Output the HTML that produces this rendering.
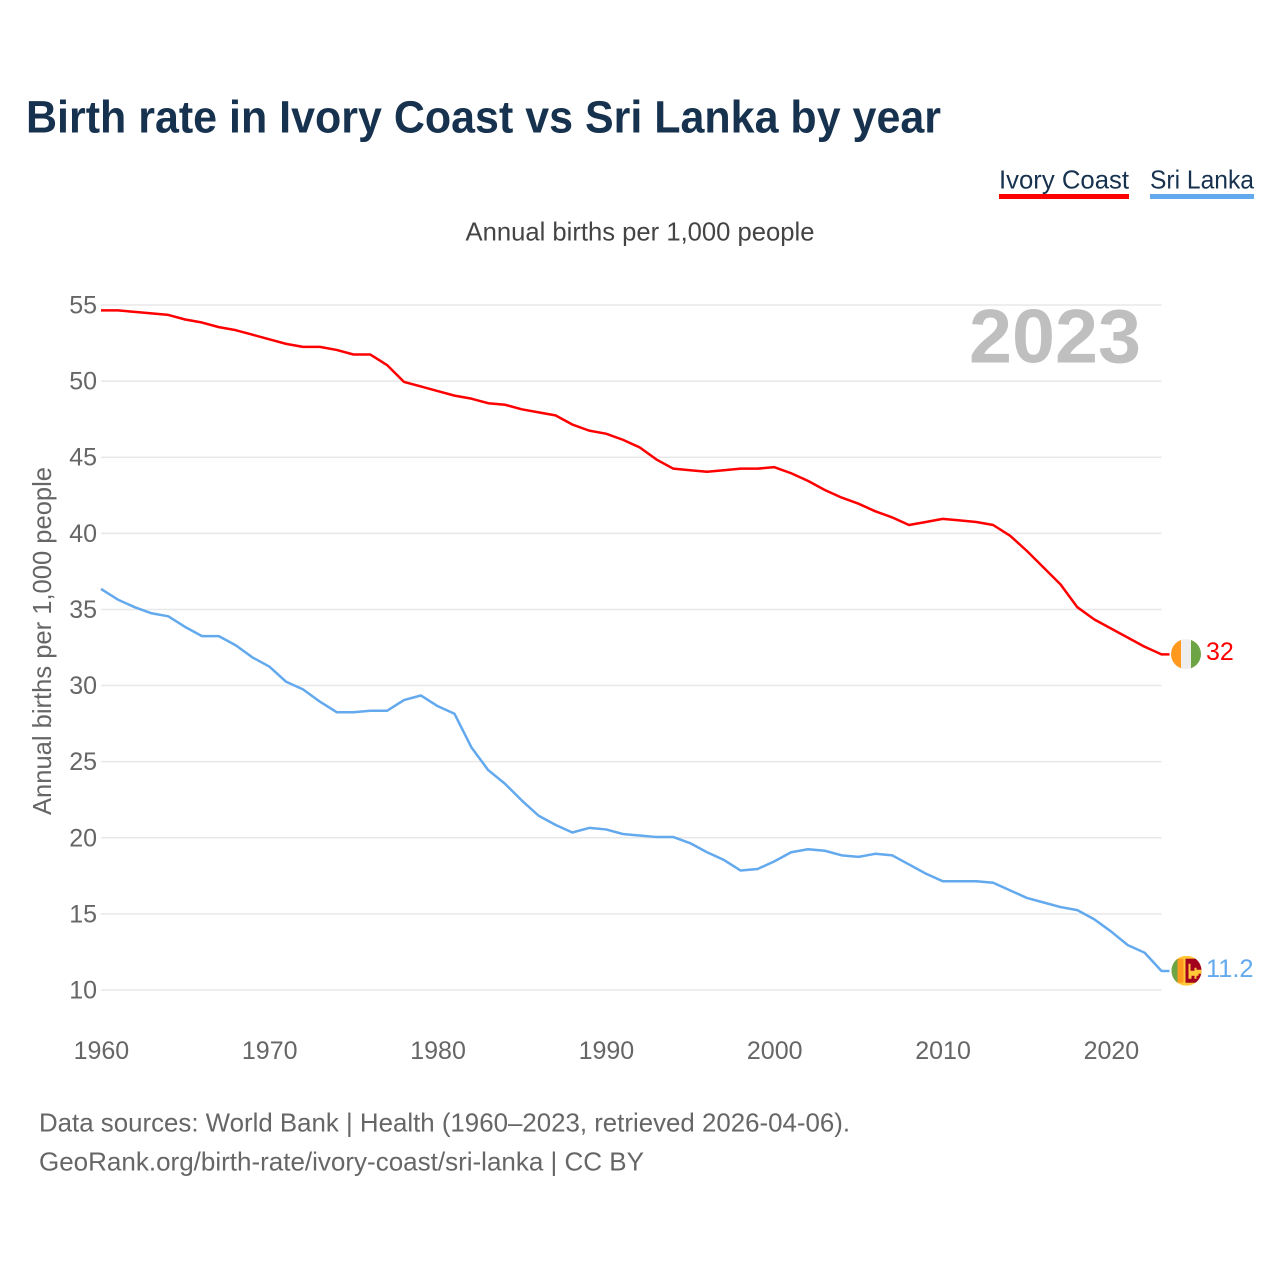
<!DOCTYPE html>
<html lang="en">
<head>
<meta charset="utf-8">
<title>Birth rate in Ivory Coast vs Sri Lanka by year</title>
<style>
html,body{margin:0;padding:0;background:#fff;width:1280px;height:1280px;overflow:hidden}
svg{display:block}
text{font-family:"Liberation Sans",sans-serif}
</style>
</head>
<body>
<svg id="chart" xmlns="http://www.w3.org/2000/svg" width="1280" height="1280" viewBox="0 0 1280 1280">
  <text x="26" y="132.5" font-size="45" font-weight="700" fill="#17324f" textLength="915" lengthAdjust="spacingAndGlyphs">Birth rate in Ivory Coast vs Sri Lanka by year</text>

  <g>
    <text x="999" y="188.5" font-size="26" fill="#17324f" textLength="130" lengthAdjust="spacingAndGlyphs">Ivory Coast</text>
    <rect x="999" y="194" width="130" height="5" fill="#ff0000"/>
  </g>
  <g>
    <text x="1150" y="188.5" font-size="26" fill="#17324f" textLength="104" lengthAdjust="spacingAndGlyphs">Sri Lanka</text>
    <rect x="1150" y="194" width="104" height="5" fill="#63a9ee"/>
  </g>

  <text x="640" y="240.5" font-size="26" fill="#444" text-anchor="middle" textLength="349" lengthAdjust="spacingAndGlyphs">Annual births per 1,000 people</text>

  <text transform="translate(51 641) rotate(-90)" font-size="26" fill="#666" text-anchor="middle" textLength="348" lengthAdjust="spacingAndGlyphs">Annual births per 1,000 people</text>

  <g id="grid"></g>
  <g id="yticks"></g>
  <g id="xticks"></g>

  <text x="969" y="362.5" font-size="76" font-weight="700" fill="#bfbfbf" textLength="172" lengthAdjust="spacingAndGlyphs">2023</text>

  <g id="series"></g>

  <defs>
    <clipPath id="clip-ci"><circle cx="0" cy="0" r="15"/></clipPath>
    <clipPath id="clip-lk"><circle cx="0" cy="0" r="15"/></clipPath>
  </defs>

  <g id="flag-ci">
    <g clip-path="url(#clip-ci)">
      <rect x="-15" y="-15" width="10" height="30" fill="#ff9a1f"/>
      <rect x="-5" y="-15" width="10" height="30" fill="#eeeeee"/>
      <rect x="5" y="-15" width="10" height="30" fill="#6da544"/>
    </g>
  </g>
  <g id="flag-lk">
    <g clip-path="url(#clip-lk)">
      <rect x="-15" y="-15" width="30" height="30" fill="#ffc93a"/>
      <rect x="-15" y="-15" width="6" height="30" fill="#6da544"/>
      <rect x="-9" y="-12" width="6" height="24" fill="#ff9a1f"/>
      <rect x="-1" y="-12" width="16" height="24" fill="#a2001d"/>
      <path d="M2-7h2v7h4v-3h2v2h5v4h-3v2h-2v3H8v-3H5v3H2z" fill="#ffc93a"/>
    </g>
  </g>

  <text id="label-ci" x="1206" font-size="25" fill="#ff0000"></text>
  <text id="label-lk" x="1206" font-size="25" fill="#63a9ee" textLength="47.5" lengthAdjust="spacingAndGlyphs"></text>

  <text x="39" y="1131.5" font-size="26" fill="#666" textLength="811" lengthAdjust="spacingAndGlyphs">Data sources: World Bank | Health (1960–2023, retrieved 2026-04-06).</text>
  <text x="39" y="1170.5" font-size="26" fill="#666" textLength="605" lengthAdjust="spacingAndGlyphs">GeoRank.org/birth-rate/ivory-coast/sri-lanka | CC BY</text>
</svg>

<script>
const startYear = 1960;
const yTickValues = [10, 15, 20, 25, 30, 35, 40, 45, 50, 55];
const xTickValues = [1960, 1970, 1980, 1990, 2000, 2010, 2020];
const ivoryCoastValues = [
  54.7, 54.7, 54.6, 54.5, 54.4, 54.1, 53.9, 53.6, 53.4, 53.1,
  52.8, 52.5, 52.3, 52.3, 52.1, 51.8, 51.8, 51.1, 50.0, 49.7,
  49.4, 49.1, 48.9, 48.6, 48.5, 48.2, 48.0, 47.8, 47.2, 46.8,
  46.6, 46.2, 45.7, 44.9, 44.3, 44.2, 44.1, 44.2, 44.3, 44.3,
  44.4, 44.0, 43.5, 42.9, 42.4, 42.0, 41.5, 41.1, 40.6, 40.8,
  41.0, 40.9, 40.8, 40.6, 39.9, 38.9, 37.8, 36.7, 35.2, 34.4,
  33.8, 33.2, 32.6, 32.1
];
const sriLankaValues = [
  36.4, 35.7, 35.2, 34.8, 34.6, 33.9, 33.3, 33.3, 32.7, 31.9,
  31.3, 30.3, 29.8, 29.0, 28.3, 28.3, 28.4, 28.4, 29.1, 29.4,
  28.7, 28.2, 26.0, 24.5, 23.6, 22.5, 21.5, 20.9, 20.4, 20.7,
  20.6, 20.3, 20.2, 20.1, 20.1, 19.7, 19.1, 18.6, 17.9, 18.0,
  18.5, 19.1, 19.3, 19.2, 18.9, 18.8, 19.0, 18.9, 18.3, 17.7,
  17.2, 17.2, 17.2, 17.1, 16.6, 16.1, 15.8, 15.5, 15.3, 14.7,
  13.9, 13.0, 12.5, 11.3
];
const ivoryCoastLabel = "32";
const sriLankaLabel = "11.2";

const NS = "http://www.w3.org/2000/svg";
const xScale = year => 101 + (year - 1960) * (1060.5 / 63);
const yScale = value => 990 - (value - 10) * (685 / 45);
const lineOffset = 0.8;

const grid = document.getElementById("grid");
const yticks = document.getElementById("yticks");
const xticks = document.getElementById("xticks");
const series = document.getElementById("series");

yTickValues.forEach(function (v) {
  const line = document.createElementNS(NS, "line");
  
  
  line.setAttribute("x1", 101);
  line.setAttribute("x2", 1161.5);
  line.setAttribute("y1", yScale(v));
  line.setAttribute("y2", yScale(v));
  line.setAttribute("stroke", "#e8e8e8");
  line.setAttribute("stroke-width", "1.5");
  grid.appendChild(line);

  const t = document.createElementNS(NS, "text");
  
  
  t.setAttribute("x", 97);
  t.setAttribute("y", yScale(v) + 8.5);
  t.setAttribute("text-anchor", "end");
  t.setAttribute("font-size", "25");
  t.setAttribute("fill", "#666");
  t.textContent = v;
  yticks.appendChild(t);
});

xTickValues.forEach(function (y) {
  const t = document.createElementNS(NS, "text");
  
  
  t.setAttribute("x", xScale(y) + 0.4);
  t.setAttribute("y", 1059);
  t.setAttribute("text-anchor", "middle");
  t.setAttribute("font-size", "25");
  t.setAttribute("fill", "#666");
  t.textContent = y;
  xticks.appendChild(t);
});

function drawLine(values, color, name) {
  const pts = values.map(function (v, i) {
    return xScale(startYear + i).toFixed(2) + "," + (yScale(v) + lineOffset).toFixed(2);
  });
  const lastX = xScale(startYear + values.length - 1);
  const lastY = yScale(values[values.length - 1]);
  pts.push((lastX + 8).toFixed(2) + "," + (lastY + lineOffset).toFixed(2));
  const p = document.createElementNS(NS, "polyline");
  
  
  p.setAttribute("points", pts.join(" "));
  p.setAttribute("fill", "none");
  p.setAttribute("stroke", color);
  p.setAttribute("stroke-width", "2.5");
  p.setAttribute("stroke-linejoin", "round");
  series.appendChild(p);
  return { x: lastX, y: lastY };
}

const endCi = drawLine(ivoryCoastValues, "#ff0000", "ivory-coast-line");
const endLk = drawLine(sriLankaValues, "#63a9ee", "sri-lanka-line");

document.getElementById("flag-ci").setAttribute("transform", "translate(" + (endCi.x + 24.5) + " " + (endCi.y + 0.5) + ")");
document.getElementById("flag-lk").setAttribute("transform", "translate(" + (endLk.x + 25) + " " + (endLk.y + 0.5) + ")");

const labelCi = document.getElementById("label-ci");
labelCi.setAttribute("y", endCi.y + 6.5);
labelCi.textContent = ivoryCoastLabel;
const labelLk = document.getElementById("label-lk");
labelLk.setAttribute("y", endLk.y + 7);
labelLk.textContent = sriLankaLabel;
</script>
</body>
</html>
